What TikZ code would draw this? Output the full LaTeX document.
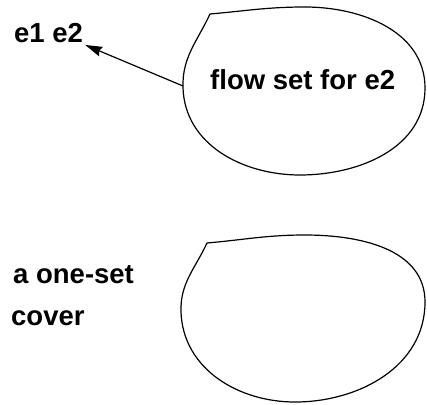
\documentclass[tikz,border=0pt]{standalone}
\usepackage{fontspec}
\setmainfont{Liberation Sans}
\usetikzlibrary{arrows.meta}
\tikzset{
  lbl/.style = {font=\fontsize{27.5}{33}\selectfont\bfseries,
    inner sep=2pt, anchor=base west},% texte
  blob/.style = {draw=black, line width=1.2pt, line join=round},% ensemble
  arr/.style = {-{Stealth[length=17pt,width=10pt,inset=2pt]},
    line width=1.2pt}% fleche
}
\begin{document}
\begin{tikzpicture}[x=1pt,y=-1pt]
\useasboundingbox (0,0) rectangle (427,404);
% ensemble du haut
\draw[blob] (210,14) to[out=5,in=180] (305,7) to[out=0,in=90] (425,88)
  to[out=-90,in=0] (300,175) to[out=180,in=-88] (183,88)
  to[out=92,in=-115] (210,14);
\coordinate (flowleft) at (183,86);
\node[lbl] (flow) at (208,89.3) {flow set for e2};
\node[lbl] (e1e2) at (12,42.5) {e1 e2};
\draw[arr] (flowleft) -- (e1e2.south east);
% ensemble du bas
\draw[blob] (207,243) to[out=5,in=180] (305,235) to[out=0,in=90] (425,302)
  to[out=-90,in=0] (295,402) to[out=180,in=-88] (181,312)
  to[out=92,in=-115] (207,243);
\node[lbl] (oneset) at (11,283.3) {a one-set};
\node[lbl] (cover) at (9,325) {cover};
\end{tikzpicture}
\end{document}
